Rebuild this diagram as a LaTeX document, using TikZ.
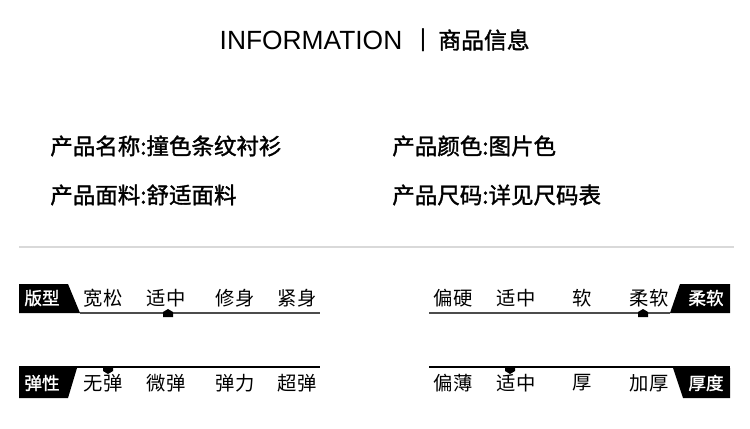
\documentclass[tikz,border=0pt]{standalone}
\usepackage{fontspec}
\setmainfont{Liberation Sans}
\newfontfamily\cjk{Noto Sans CJK SC}
\newfontfamily\cjkmid[FakeBold=1.4]{Noto Sans CJK SC}
\tikzset{
  info/.style={anchor=west, inner sep=0pt, font=\cjkmid\fontsize{12.8}{13}\selectfont},
  word/.style={inner sep=0pt, font=\cjk\fontsize{11}{12}\selectfont},
  tagtext/.style={inner sep=0pt, text=white, font=\cjkmid\fontsize{10}{12}\selectfont},
  bar/.style={line width=1.4pt, black!70},
  thinbar/.style={line width=0.9pt, black}
}
\begin{document}
\begin{tikzpicture}[x=0.02cm, y=-0.02cm]
\useasboundingbox (0,0) rectangle (750,429);
% heading
\node (title) [inner sep=0pt, font=\fontsize{15}{17}\selectfont] at (311,40) {INFORMATION};
\node (sep) [inner sep=0pt, font=\fontsize{14}{16}\selectfont] at (423,40) {|};
\node (titlecn) [inner sep=0pt, font=\cjkmid\fontsize{13}{15}\selectfont] at (484,40) {商品信息};
% product info
\node (name) [info] at (50,146) {产品名称:撞色条纹衬衫};
\node (colour) [info] at (392,146) {产品颜色:图片色};
\node (fabric) [info] at (50,195) {产品面料:舒适面料};
\node (size) [info] at (392,195) {产品尺码:详见尺码表};
\draw[black!15, line width=0.8pt] (19,247) -- (734,247);  % divider
% fit row
\fill (19,284) -- (68,284) -- (80,313) -- (19,313) -- cycle;
\node (fit) [tagtext] at (42,298) {版型};
\coordinate (fitA) at (80,313);
\coordinate (fitB) at (320,313);
\draw[bar] (fitA) -- (fitB);
\node (fit1) [word] at (103,298) {宽松};
\node (fit2) [word] at (166,298) {适中};
\node (fit3) [word] at (235,298) {修身};
\node (fit4) [word] at (297,298) {紧身};
\fill (163,317) -- (163,312) -- (168,309) -- (173,312) -- (173,317) -- cycle;
% stretch row
\fill (19,368) -- (77,368) -- (68,398) -- (19,398) -- cycle;
\node (stretch) [tagtext] at (42,383) {弹性};
\coordinate (strA) at (19,367);
\coordinate (strB) at (320,367);
\draw[thinbar] (strA) -- (strB);
\node (str1) [word] at (103,383) {无弹};
\node (str2) [word] at (166,383) {微弹};
\node (str3) [word] at (235,383) {弹力};
\node (str4) [word] at (297,383) {超弹};
\fill (103,366) -- (113,366) -- (113,371) -- (108,374) -- (103,371) -- cycle;
% softness row
\fill (680,284) -- (730,284) -- (730,313) -- (670,313) -- cycle;
\node (soft) [tagtext] at (706,298) {柔软};
\coordinate (softA) at (429,313);
\coordinate (softB) at (670,313);
\draw[bar] (softA) -- (softB);
\node (soft1) [word] at (453,298) {偏硬};
\node (soft2) [word] at (516,298) {适中};
\node (soft3) [word] at (582,298) {软};
\node (soft4) [word] at (649,298) {柔软};
\fill (638,317) -- (638,312) -- (643,309) -- (648,312) -- (648,317) -- cycle;
% thickness row
\fill (673,368) -- (730,368) -- (730,398) -- (683,398) -- cycle;
\node (thick) [tagtext] at (706,383) {厚度};
\coordinate (thkA) at (429,367);
\coordinate (thkB) at (730,367);
\draw[thinbar] (thkA) -- (thkB);
\node (thk1) [word] at (453,383) {偏薄};
\node (thk2) [word] at (516,383) {适中};
\node (thk3) [word] at (582,383) {厚};
\node (thk4) [word] at (649,383) {加厚};
\fill (505,366) -- (515,366) -- (515,371) -- (510,374) -- (505,371) -- cycle;
\end{tikzpicture}
\end{document}
